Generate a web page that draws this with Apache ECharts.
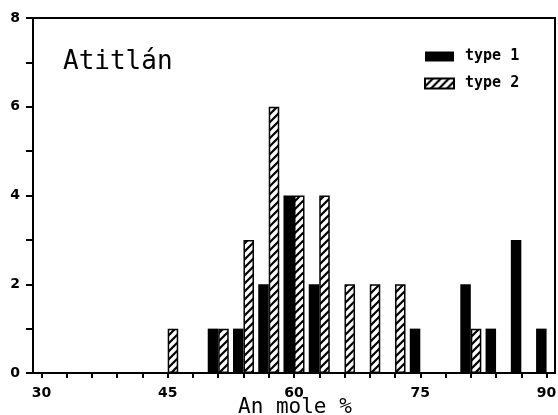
<!DOCTYPE html>
<html>
<head>
<meta charset="utf-8">
<script src="https://cdn.jsdelivr.net/npm/echarts@6/dist/echarts.min.js"></script>
<style>
  html, body { margin: 0; padding: 0; background: #fff; }
  #chart { width: 558px; height: 415px; }
</style>
</head>
<body>
<div id="chart"></div>
<script>
// bins of An mole % (3 % wide), counts per type
var bins = [45, 48, 51, 54, 57, 60, 63, 66, 69, 72, 75, 78, 81, 84, 87, 90];
var type1 = [0, 0, 1, 1, 2, 4, 2, 0, 0, 0, 1, 0, 2, 1, 3, 1];
var type2 = [1, 0, 1, 3, 6, 4, 4, 2, 2, 2, 0, 0, 1, 0, 0, 0];
var xTicks = [30, 33, 36, 39, 42, 45, 48, 51, 54, 57, 60, 63, 66, 69, 72, 75, 78, 81, 84, 87, 90];
var xLabels = [30, 45, 60, 75, 90];

// diagonal hatch for type 2
var hatch = document.createElement('canvas');
hatch.width = 8;
hatch.height = 8;
var ctx = hatch.getContext('2d');
ctx.fillStyle = '#fff';
ctx.fillRect(0, 0, 8, 8);
ctx.strokeStyle = '#000';
ctx.lineWidth = 2.2;
ctx.beginPath();
ctx.moveTo(-1, 9); ctx.lineTo(9, -1);
ctx.moveTo(-5, 5); ctx.lineTo(5, -5);
ctx.moveTo(3, 13); ctx.lineTo(13, 3);
ctx.stroke();

function pairs(vals) {
  var out = [];
  for (var i = 0; i < bins.length; i++) {
    out.push([bins[i], vals[i] > 0 ? vals[i] : null]);
  }
  return out;
}

var myChart = echarts.init(document.getElementById('chart'));

var option = {
  animation: false,
  title: [
    {
      text: 'Atitlán',
      left: 58,
      top: 44,
      textStyle: { fontFamily: 'DejaVu Sans Mono', fontSize: 26, fontWeight: 'normal', color: '#000' }
    },
    {
      // x axis name, placed by hand so it sits just under the tick labels
      text: 'An mole %',
      left: 233,
      top: 392,
      textStyle: { fontFamily: 'DejaVu Sans Mono', fontSize: 21, fontWeight: 'normal', color: '#000' }
    }
  ],
  legend: {
    orient: 'vertical',
    left: 419,
    top: 44,
    icon: 'rect',
    itemWidth: 29,
    itemHeight: 10,
    itemGap: 12,
    textStyle: {
      fontFamily: 'DejaVu Sans Mono', fontWeight: 'bold', fontSize: 15, color: '#000',
      padding: [0, 0, 0, 6]
    },
    data: ['type 1', 'type 2']
  },
  grid: {
    left: 33, top: 18, right: 3, bottom: 42,
    outerBoundsMode: 'none',
    show: true, borderColor: '#000', borderWidth: 2
  },
  xAxis: {
    type: 'value',
    min: 29, max: 91,
    splitLine: { show: false },
    axisLine: { lineStyle: { color: '#000', width: 2 } },
    axisTick: { length: 5, lineStyle: { color: '#000', width: 2 }, customValues: xTicks },
    axisLabel: {
      customValues: xLabels, margin: 13,
      fontFamily: 'DejaVu Sans', fontWeight: 'bold', fontSize: 14, color: '#000'
    }
  },
  yAxis: {
    type: 'value',
    min: 0, max: 8, interval: 1,
    splitLine: { show: false },
    axisLine: { show: true, lineStyle: { color: '#000', width: 2 } },
    axisTick: { show: true, length: 7, lineStyle: { color: '#000', width: 2 } },
    axisLabel: {
      margin: 13,
      fontFamily: 'DejaVu Sans', fontWeight: 'bold', fontSize: 14, color: '#000',
      formatter: function (v) { return v % 2 === 0 ? v : ''; }
    }
  },
  series: [
    {
      name: 'type 1',
      type: 'bar',
      barWidth: 10.5,
      barGap: '0%',
      itemStyle: { color: '#000' },
      data: pairs(type1)
    },
    {
      name: 'type 2',
      type: 'bar',
      barWidth: 10.5,
      barGap: '0%',
      itemStyle: { color: { image: hatch, repeat: 'repeat' }, borderColor: '#000', borderWidth: 1.5 },
      data: pairs(type2)
    }
  ]
};

option && myChart.setOption(option);
</script>
</body>
</html>
